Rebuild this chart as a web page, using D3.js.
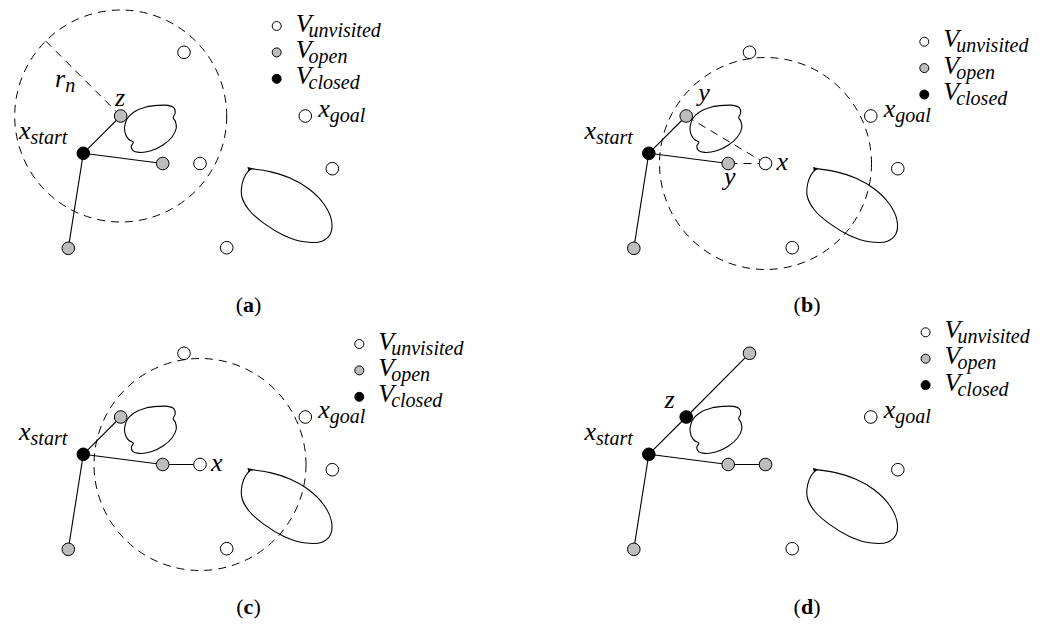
<!DOCTYPE html>
<html><head><meta charset="utf-8">
<script src="https://cdn.jsdelivr.net/npm/d3@7"></script>
<style>
  body { margin: 0; background: #fff; }
  text { font-family: "Liberation Serif", "Times New Roman", serif; }
</style>
</head><body>
<svg id="fig" width="1058" height="626"></svg>
<script>
// Sample points of the planning problem, shared by every panel (panel-local units)
const nodeIds = ["start", "n1", "n2", "n3", "n4", "n5", "goal", "n7", "n8"];
const nodeX   = [83.3, 120.7, 162.7, 68.3, 184.0, 200.0, 305.3, 332.3, 226.7];
const nodeY   = [153.3, 116.0, 163.5, 248.3, 52.3, 163.5, 116.0, 168.7, 247.7];

// Obstacles (outline points)
const smallObstacle = [[124.4,128],[127,119],[134,112],[146,107],[158,105.4],[168,105.4],[173.8,107.6],[175.2,113],[173.2,117.6],[175.4,121.5],[176.3,128],[172,137],[163,145],[151,150.8],[139,152.4],[133,150.6],[131.3,146.2],[133.4,142.2],[129,139.5],[125.6,134.5],[124.4,128]];
const largeObstacle = [[250.6,168.6],[270,171.6],[290,178],[309,189],[323.5,203.5],[331.3,219.5],[330.6,233.5],[322,241.2],[304,241.8],[284,235.4],[264,223.4],[249,210],[241.8,196.5],[242.2,183.5],[245.5,175],[250.6,168.6]];

// Panels
const panelNames = ["(a)", "(b)", "(c)", "(d)"];
const panelDx    = [0, 565.5, 0, 565.5];
const panelDy    = [0, 0, 301, 301];

// Node states per panel: u = unvisited, o = open, c = closed
const panelStates = [
  ["c","o","o","o","u","u","u","u","u"],
  ["c","o","o","o","u","u","u","u","u"],
  ["c","o","o","o","u","u","u","u","u"],
  ["c","c","o","o","o","o","u","u","u"]
];
// Tree edges per panel
const panelEdges = [
  [["start","n1"],["start","n2"],["start","n3"]],
  [["start","n1"],["start","n2"],["start","n3"]],
  [["start","n1"],["start","n2"],["start","n3"],["n2","n5"]],
  [["start","n1"],["n1","n4"],["start","n2"],["n2","n5"],["start","n3"]]
];
// Dashed candidate connections per panel
const panelDashed = [[], [["n5","n1"],["n5","n2"]], [], []];
// Neighbourhood ball (radius r_n) per panel
const ballCentre = ["n1", "n5", "n5", null];
const ballRadius = 106;
const radiusAngle = -135; // degrees, direction of the r_n segment in (a)

// Per-panel annotations
const panelLabels = [
  [{t:"z", x:120, y:106, a:"middle"}, {t:"r", s:"n", x:55, y:87, a:"start"}],
  [{t:"y", x:138.5, y:100.5, a:"middle"}, {t:"y", x:164.3, y:184.5, a:"middle"}, {t:"x", x:211, y:170, a:"start"}],
  [{t:"x", x:211, y:170, a:"start"}],
  [{t:"z", x:104, y:107, a:"middle"}]
];
const startLabel = {t:"x", s:"start", x:19, y:138.5};
const goalLabel  = {t:"x", s:"goal", x:318.3, y:117.3};

// Legend
const legendNames = ["unvisited", "open", "closed"];
const legendKeys  = ["u", "o", "c"];
const legendX = [276.7, 924.3, 359.3, 925.6];
const legendY = [26.0, 41.7, 344.0, 332.3];

// Captions
const captionX = [248.5, 807, 248.5, 807];
const captionY = [312, 312, 614, 614];

const fillFor = {u: "#ffffff", o: "#bdbdbd", c: "#000000"};
const svg = d3.select("#fig");

function addLabel(g, d, sx, sy) {
  const t = g.append("text")
    .attr("x", sx(d.x)).attr("y", sy(d.y))
    .attr("text-anchor", d.a || "start")
    .attr("font-style", "italic")
    .attr("font-size", 26)
    .text(d.t);
  if (d.s) {
    t.append("tspan").attr("font-size", 20).attr("dy", 5).text(d.s);
  }
}

panelNames.forEach((name, p) => {
  const sx = d3.scaleLinear().domain([0, 500]).range([panelDx[p], panelDx[p] + 500]);
  const sy = d3.scaleLinear().domain([0, 300]).range([panelDy[p], panelDy[p] + 300]);
  const pos = id => { const i = nodeIds.indexOf(id); return [sx(nodeX[i]), sy(nodeY[i])]; };
  const g = svg.append("g");

  // obstacles
  const smooth = d3.line().x(d => sx(d[0])).y(d => sy(d[1])).curve(d3.curveCatmullRom.alpha(0.5));
  g.append("path").attr("d", smooth(smallObstacle))
    .attr("fill", "none").attr("stroke", "#000").attr("stroke-width", 1.1);
  g.append("path").attr("d", smooth(largeObstacle))
    .attr("fill", "none").attr("stroke", "#000").attr("stroke-width", 1.1);
  // small arrow tip at the seam of the large obstacle outline
  const tip = largeObstacle[0];
  g.append("path")
    .attr("d", d3.line()([[sx(tip[0]) - 3, sy(tip[1]) - 1.2], [sx(tip[0]) + 1.5, sy(tip[1])], [sx(tip[0]) - 2.2, sy(tip[1]) + 2.4]]))
    .attr("fill", "#000").attr("stroke", "#000").attr("stroke-width", 0.8);

  // neighbourhood ball
  if (ballCentre[p]) {
    const c = pos(ballCentre[p]);
    const rpx = sx(ballRadius) - sx(0);
    g.append("circle").attr("cx", c[0]).attr("cy", c[1]).attr("r", rpx)
      .attr("fill", "none").attr("stroke", "#000").attr("stroke-width", 1)
      .attr("stroke-dasharray", "8,6");
    if (p === 0) {
      const ang = radiusAngle * Math.PI / 180;
      g.append("line")
        .attr("x1", c[0]).attr("y1", c[1])
        .attr("x2", c[0] + rpx * Math.cos(ang)).attr("y2", c[1] + rpx * Math.sin(ang))
        .attr("stroke", "#000").attr("stroke-width", 1).attr("stroke-dasharray", "8,6");
    }
  }

  // dashed candidate connections
  panelDashed[p].forEach(([a, b]) => {
    const A = pos(a), B = pos(b);
    g.append("line").attr("x1", A[0]).attr("y1", A[1]).attr("x2", B[0]).attr("y2", B[1])
      .attr("stroke", "#000").attr("stroke-width", 1).attr("stroke-dasharray", "8,6");
  });

  // tree edges
  panelEdges[p].forEach(([a, b]) => {
    const A = pos(a), B = pos(b);
    g.append("line").attr("x1", A[0]).attr("y1", A[1]).attr("x2", B[0]).attr("y2", B[1])
      .attr("stroke", "#000").attr("stroke-width", 1.1);
  });

  // nodes
  g.selectAll("circle.node").data(nodeIds).join("circle")
    .attr("class", "node")
    .attr("cx", (d, i) => sx(nodeX[i])).attr("cy", (d, i) => sy(nodeY[i]))
    .attr("r", 6.3)
    .attr("fill", (d, i) => fillFor[panelStates[p][i]])
    .attr("stroke", "#000").attr("stroke-width", 1);

  // labels
  addLabel(g, startLabel, sx, sy);
  addLabel(g, goalLabel, sx, sy);
  panelLabels[p].forEach(d => addLabel(g, d, sx, sy));

  // legend
  const lg = g.append("g");
  legendNames.forEach((nm, k) => {
    const cy = legendY[p] + k * 26.4;
    lg.append("circle").attr("cx", legendX[p]).attr("cy", cy).attr("r", 4.5)
      .attr("fill", fillFor[legendKeys[k]]).attr("stroke", "#000").attr("stroke-width", 1);
    const t = lg.append("text").attr("x", legendX[p] + 19).attr("y", cy + 5.5)
      .attr("font-style", "italic").attr("font-size", 26).text("V");
    t.append("tspan").attr("font-size", 20).attr("dx", -3).attr("dy", 5).text(nm);
  });

  // caption
  const cap = svg.append("text").attr("x", captionX[p]).attr("y", captionY[p])
    .attr("text-anchor", "middle").attr("font-size", 22).attr("font-weight", "bold");
  cap.append("tspan").attr("font-weight", "normal").text("(");
  cap.append("tspan").text(name.slice(1, 2));
  cap.append("tspan").attr("font-weight", "normal").text(")");
});
</script>
</body></html>
